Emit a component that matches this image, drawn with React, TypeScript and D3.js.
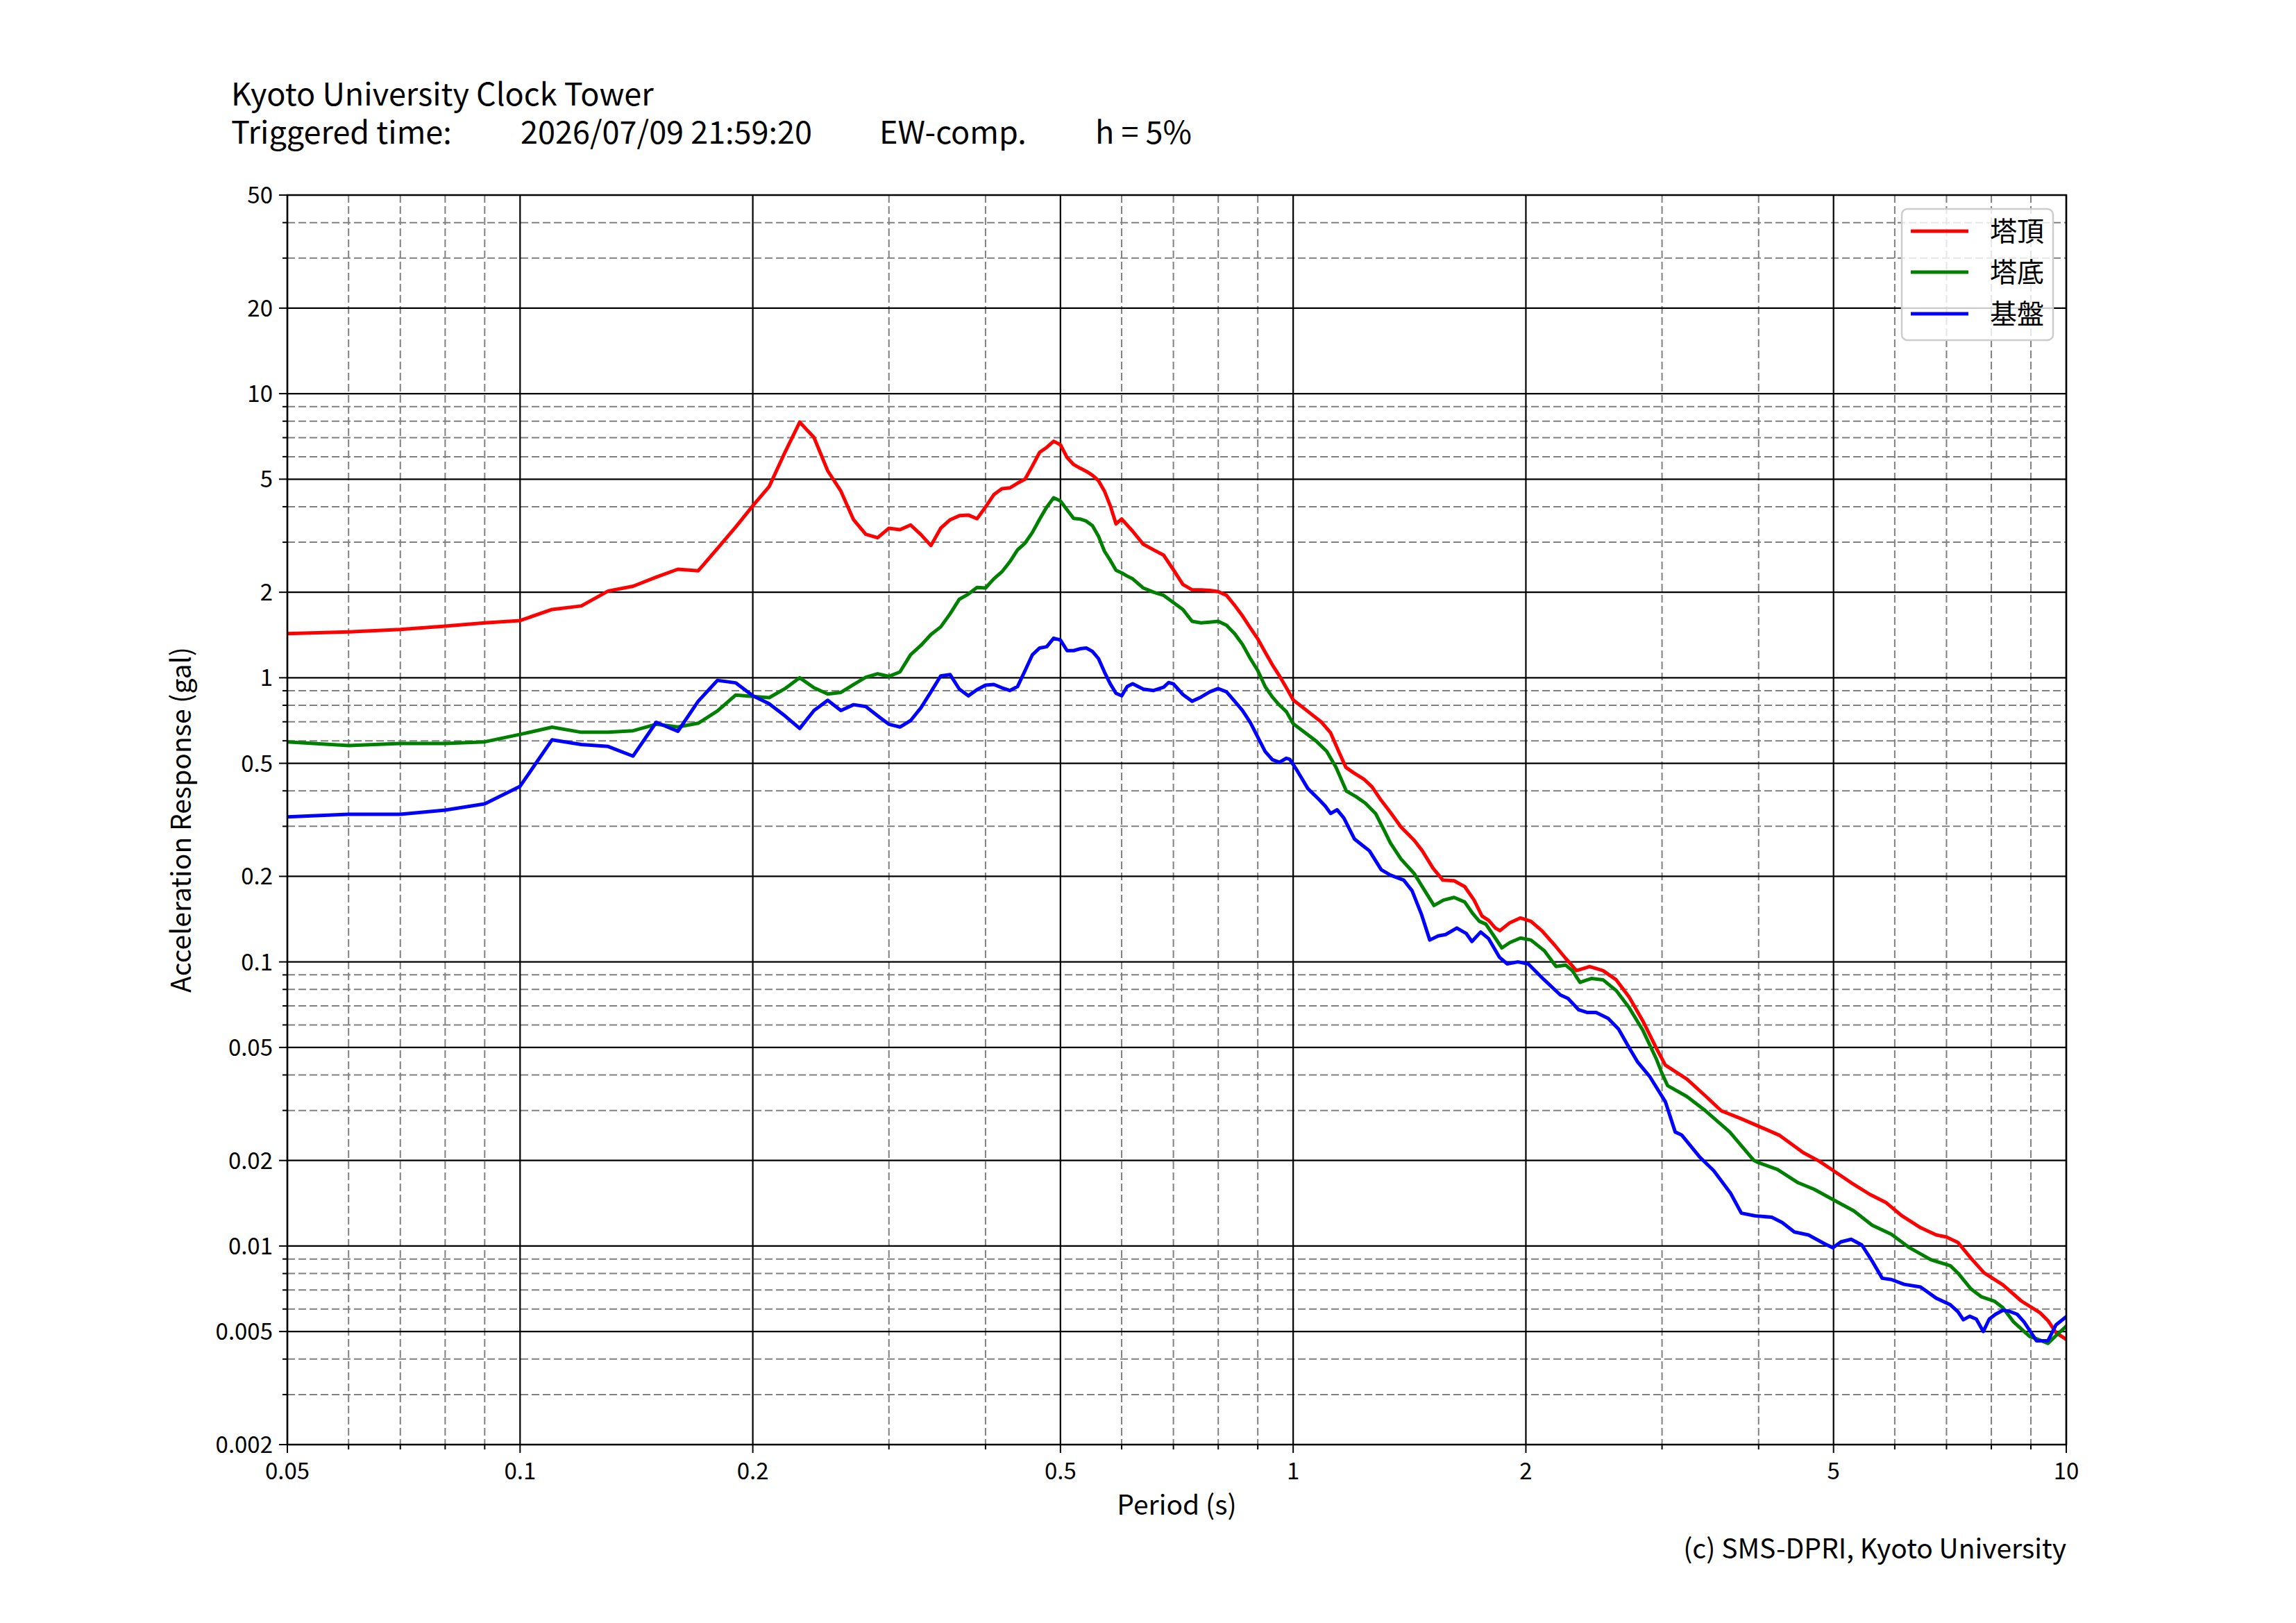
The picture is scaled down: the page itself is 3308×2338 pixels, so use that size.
import React from 'react';
import * as d3 from 'd3';

// ---------- data ----------
const redPeriods = [0.05,0.06,0.07,0.08,0.09,0.10,0.11,0.12,0.13,0.14,0.15,0.16,0.17,0.18,0.19,0.20,0.21,0.22,0.23,0.24,0.25,0.26,0.27,0.28,0.29,0.30,0.31,0.32,0.33,0.34,0.35,0.36,0.37,0.38,0.39,0.40,0.41,0.42,0.43,0.44,0.45,0.46,0.47,0.48,0.49,0.50,0.51,0.52,0.53,0.54,0.55,0.56,0.57,0.58,0.59,0.60,0.62,0.64,0.66,0.68,0.70,0.72,0.74,0.76,0.78,0.80,0.82,0.84,0.86,0.88,0.90,0.92,0.94,0.96,0.98,1.00,1.045,1.088,1.118,1.145,1.17,1.196,1.234,1.264,1.30,1.336,1.379,1.434,1.469,1.516,1.562,1.615,1.667,1.714,1.755,1.79,1.826,1.851,1.907,1.968,2.03,2.097,2.18,2.252,2.325,2.418,2.516,2.617,2.72,2.834,2.947,3.03,3.23,3.42,3.58,3.78,4.0,4.26,4.57,4.79,5.0,5.27,5.57,5.85,6.13,6.48,6.79,7.0,7.24,7.53,7.83,8.28,8.75,9.25,9.47,9.70,10.0];
const redValues = [1.43,1.45,1.48,1.52,1.56,1.59,1.74,1.79,2.02,2.10,2.26,2.41,2.38,2.85,3.39,4.03,4.71,6.2,7.94,7.01,5.35,4.54,3.60,3.20,3.11,3.36,3.32,3.45,3.19,2.92,3.36,3.60,3.72,3.74,3.63,3.99,4.41,4.63,4.66,4.84,5.0,5.57,6.22,6.47,6.80,6.61,5.96,5.63,5.47,5.33,5.16,4.94,4.54,4.03,3.48,3.62,3.28,2.95,2.82,2.70,2.40,2.13,2.04,2.04,2.03,2.01,1.95,1.80,1.65,1.50,1.37,1.23,1.11,1.015,0.922,0.836,0.761,0.698,0.640,0.551,0.484,0.464,0.44,0.414,0.370,0.336,0.298,0.268,0.246,0.214,0.194,0.193,0.184,0.165,0.145,0.140,0.1316,0.1288,0.1374,0.1428,0.139,0.1288,0.1144,0.1028,0.0932,0.0963,0.0932,0.0865,0.0752,0.0619,0.0499,0.0433,0.0387,0.0336,0.0299,0.0282,0.0264,0.0245,0.0213,0.0199,0.0184,0.0167,0.0152,0.0142,0.01277,0.0116,0.01094,0.01075,0.0103,0.00905,0.00804,0.0073,0.0064,0.00582,0.00546,0.00495,0.00469];

const greenPeriods = [0.05,0.06,0.07,0.08,0.09,0.10,0.11,0.12,0.13,0.14,0.15,0.16,0.17,0.18,0.19,0.20,0.21,0.22,0.23,0.24,0.25,0.26,0.27,0.28,0.29,0.30,0.31,0.32,0.33,0.34,0.35,0.36,0.37,0.38,0.39,0.40,0.41,0.42,0.43,0.44,0.45,0.46,0.47,0.48,0.49,0.50,0.51,0.52,0.53,0.54,0.55,0.56,0.57,0.58,0.59,0.60,0.61,0.62,0.64,0.66,0.68,0.70,0.72,0.74,0.76,0.78,0.80,0.82,0.84,0.86,0.88,0.90,0.92,0.94,0.96,0.98,1.00,1.037,1.07,1.105,1.136,1.172,1.205,1.24,1.279,1.31,1.336,1.379,1.434,1.48,1.521,1.565,1.615,1.667,1.707,1.741,1.775,1.818,1.862,1.907,1.968,2.03,2.112,2.188,2.252,2.296,2.35,2.43,2.516,2.617,2.72,2.834,2.947,3.0,3.05,3.23,3.40,3.67,3.94,4.0,4.23,4.50,4.72,5.0,5.31,5.61,5.94,6.27,6.68,7.08,7.24,7.53,7.77,8.07,8.28,8.55,8.97,9.18,9.47,9.70,10.0];
const greenValues = [0.595,0.577,0.587,0.587,0.595,0.632,0.670,0.643,0.643,0.651,0.686,0.671,0.692,0.764,0.869,0.860,0.851,0.915,1.0,0.922,0.877,0.888,0.947,1.004,1.033,1.011,1.048,1.206,1.30,1.42,1.51,1.68,1.89,1.97,2.08,2.07,2.23,2.36,2.56,2.82,2.98,3.25,3.62,3.99,4.30,4.19,3.90,3.64,3.62,3.56,3.43,3.15,2.79,2.59,2.39,2.34,2.28,2.23,2.07,2.00,1.95,1.84,1.74,1.58,1.56,1.57,1.58,1.53,1.43,1.31,1.17,1.06,0.931,0.855,0.801,0.76,0.689,0.640,0.600,0.551,0.484,0.399,0.382,0.362,0.332,0.292,0.262,0.230,0.2046,0.178,0.158,0.165,0.1686,0.1625,0.148,0.139,0.1359,0.1234,0.112,0.117,0.1213,0.1194,0.1096,0.0963,0.0974,0.0932,0.0847,0.0874,0.0865,0.0793,0.069,0.0574,0.0458,0.0405,0.0367,0.0336,0.0302,0.0252,0.02006,0.01964,0.0186,0.0167,0.01583,0.01453,0.0133,0.01184,0.011,0.00986,0.00895,0.00852,0.00804,0.00706,0.00662,0.0064,0.00607,0.0054,0.0048,0.0047,0.00454,0.00484,0.00522];

const bluePeriods = [0.05,0.06,0.07,0.08,0.09,0.10,0.11,0.12,0.13,0.14,0.15,0.16,0.17,0.18,0.19,0.20,0.21,0.22,0.23,0.24,0.25,0.26,0.27,0.28,0.29,0.30,0.31,0.32,0.33,0.34,0.35,0.36,0.37,0.38,0.39,0.40,0.41,0.42,0.43,0.44,0.45,0.46,0.47,0.48,0.49,0.50,0.51,0.52,0.53,0.54,0.55,0.56,0.57,0.58,0.59,0.60,0.61,0.62,0.64,0.66,0.68,0.69,0.70,0.72,0.74,0.76,0.78,0.80,0.82,0.84,0.86,0.88,0.90,0.92,0.94,0.96,0.98,0.99,1.013,1.045,1.079,1.1,1.118,1.14,1.163,1.2,1.225,1.255,1.30,1.336,1.39,1.425,1.466,1.502,1.54,1.575,1.628,1.674,1.703,1.748,1.79,1.848,1.892,1.953,2.014,2.112,2.216,2.267,2.341,2.399,2.465,2.555,2.636,2.72,2.79,2.89,3.03,3.12,3.18,3.36,3.50,3.68,3.80,3.96,4.16,4.29,4.45,4.64,4.87,4.99,5.11,5.27,5.44,5.61,5.78,5.94,6.17,6.48,6.79,7.08,7.24,7.36,7.50,7.65,7.81,7.95,8.10,8.28,8.43,8.64,8.82,9.15,9.47,9.70,10.0];
const blueValues = [0.324,0.331,0.331,0.342,0.36,0.415,0.605,0.582,0.573,0.530,0.697,0.648,0.827,0.979,0.960,0.864,0.810,0.735,0.663,0.767,0.833,0.767,0.804,0.792,0.735,0.686,0.671,0.707,0.784,0.892,1.015,1.026,0.912,0.864,0.908,0.942,0.947,0.922,0.902,0.931,1.06,1.206,1.273,1.286,1.378,1.358,1.246,1.246,1.265,1.273,1.238,1.168,1.048,0.952,0.882,0.864,0.931,0.952,0.912,0.902,0.927,0.962,0.952,0.873,0.827,0.855,0.892,0.916,0.892,0.827,0.767,0.697,0.618,0.55,0.515,0.504,0.521,0.516,0.469,0.407,0.374,0.354,0.333,0.343,0.321,0.271,0.259,0.246,0.211,0.202,0.194,0.178,0.1466,0.1194,0.1234,0.1248,0.1316,0.126,0.118,0.1274,0.1207,0.1039,0.0984,0.1,0.0984,0.0865,0.0765,0.0744,0.0678,0.0664,0.0664,0.0633,0.058,0.0499,0.0444,0.0396,0.0322,0.0252,0.0246,0.0205,0.0184,0.01533,0.01305,0.01277,0.01263,0.0121,0.0112,0.01094,0.01018,0.00986,0.01034,0.01056,0.01008,0.00885,0.0077,0.00762,0.00733,0.00717,0.00655,0.00621,0.00588,0.0055,0.00566,0.00553,0.005,0.00553,0.00575,0.00594,0.0059,0.00575,0.0054,0.00464,0.00464,0.00528,0.00564];

const seriesNames = ['塔頂', '塔底', '基盤'];
const seriesColors = ['#ff0000', '#008000', '#0000ff'];

const xMajorTicks = [0.05, 0.1, 0.2, 0.5, 1, 2, 5, 10];
const xTickLabels = ['0.05', '0.1', '0.2', '0.5', '1', '2', '5', '10'];
const xMinorTicks = [0.06, 0.07, 0.08, 0.09, 0.3, 0.4, 0.6, 0.7, 0.8, 0.9, 3, 4, 6, 7, 8, 9];
const yMajorTicks = [0.002, 0.005, 0.01, 0.02, 0.05, 0.1, 0.2, 0.5, 1, 2, 5, 10, 20, 50];
const yTickLabels = ['0.002', '0.005', '0.01', '0.02', '0.05', '0.1', '0.2', '0.5', '1', '2', '5', '10', '20', '50'];
const yMinorTicks = [0.003, 0.004, 0.006, 0.007, 0.008, 0.009, 0.03, 0.04, 0.06, 0.07, 0.08, 0.09, 0.3, 0.4, 0.6, 0.7, 0.8, 0.9, 3, 4, 6, 7, 8, 9, 30, 40];

const FONT = '"Noto Sans CJK JP", "Noto Sans", sans-serif';

export default function App() {
  const W = 3308, H = 2338;
  const L = 414, R = 2977, T = 281, B = 2081;
  const x = d3.scaleLog().domain([0.05, 10]).range([L, R]);
  const y = d3.scaleLog().domain([0.002, 50]).range([B, T]);
  const line = d3.line<[number, number]>().x(d => x(d[0])).y(d => y(d[1]));

  const series = [
    { p: redPeriods, v: redValues },
    { p: greenPeriods, v: greenValues },
    { p: bluePeriods, v: blueValues },
  ].map((s, i) => ({
    name: seriesNames[i],
    color: seriesColors[i],
    d: line(s.p.map((pp, j) => [pp, s.v[j]] as [number, number])) || '',
  }));

  const legX = 2740, legY = 301, legW = 218, legH = 189;
  const legRows = [333, 392, 452];

  return (
    <svg width={W} height={H} style={{ position: 'absolute', left: 0, top: 0 }} fontFamily={FONT}>
      <rect x={0} y={0} width={W} height={H} fill="#ffffff" />
      {/* titles */}
      <text fontSize={45} fill="#000">
        <tspan x={333} y={152}>Kyoto University Clock Tower</tspan>
        <tspan x={333} y={207}>Triggered time:</tspan>
        <tspan x={750} y={207}>2026/07/09 21:59:20</tspan>
        <tspan x={1267} y={207}>EW-comp.</tspan>
        <tspan x={1578} y={207}>h = 5%</tspan>
      </text>

      <defs>
        <clipPath id="plotclip">
          <rect x={L} y={T} width={R - L} height={B - T} />
        </clipPath>
      </defs>

      {/* minor grid */}
      <g stroke="#808080" strokeWidth={2} strokeDasharray="11,5" fill="none">
        {xMinorTicks.map(t => (
          <line key={'xm' + t} x1={x(t)} x2={x(t)} y1={T} y2={B} />
        ))}
        {yMinorTicks.map(t => (
          <line key={'ym' + t} x1={L} x2={R} y1={y(t)} y2={y(t)} />
        ))}
      </g>
      {/* major grid */}
      <g stroke="#000000" strokeWidth={2.2} fill="none">
        {xMajorTicks.map(t => (
          <line key={'xM' + t} x1={x(t)} x2={x(t)} y1={T} y2={B} />
        ))}
        {yMajorTicks.map(t => (
          <line key={'yM' + t} x1={L} x2={R} y1={y(t)} y2={y(t)} />
        ))}
      </g>

      {/* curves */}
      <g clipPath="url(#plotclip)" fill="none" strokeWidth={5} strokeLinejoin="round" strokeLinecap="square">
        {series.map(s => (
          <path key={s.name} d={s.d} stroke={s.color} />
        ))}
      </g>

      {/* spines */}
      <rect x={L} y={T} width={R - L} height={B - T} fill="none" stroke="#000" strokeWidth={2.5} />

      {/* ticks */}
      <g stroke="#000" strokeWidth={2}>
        {xMajorTicks.map(t => (
          <line key={'xt' + t} x1={x(t)} x2={x(t)} y1={B} y2={B + 12} />
        ))}
        {xMinorTicks.map(t => (
          <line key={'xmt' + t} x1={x(t)} x2={x(t)} y1={B} y2={B + 7} />
        ))}
        {yMajorTicks.map(t => (
          <line key={'yt' + t} x1={L - 12} x2={L} y1={y(t)} y2={y(t)} />
        ))}
        {yMinorTicks.map(t => (
          <line key={'ymt' + t} x1={L - 7} x2={L} y1={y(t)} y2={y(t)} />
        ))}
      </g>

      {/* tick labels */}
      <g fontSize={33} fill="#000">
        {xMajorTicks.map((t, i) => (
          <text key={'xl' + t} x={x(t)} y={2131} textAnchor="middle">{xTickLabels[i]}</text>
        ))}
        {yMajorTicks.map((t, i) => (
          <text key={'yl' + t} x={393} y={y(t) + 12} textAnchor="end">{yTickLabels[i]}</text>
        ))}
      </g>

      {/* axis labels */}
      <text x={(L + R) / 2} y={2182} fontSize={39} textAnchor="middle" fill="#000">Period (s)</text>
      <text transform={`translate(275, ${(T + B) / 2}) rotate(-90)`} fontSize={39} textAnchor="middle" fill="#000">
        Acceleration Response (gal)
      </text>

      {/* legend */}
      <rect x={legX} y={legY} width={legW} height={legH} rx={8} ry={8} fill="#ffffff" fillOpacity={0.8} stroke="#cccccc" strokeWidth={2.5} />
      {series.map((s, i) => (
        <g key={'leg' + s.name}>
          <line x1={2753} x2={2836} y1={legRows[i]} y2={legRows[i]} stroke={s.color} strokeWidth={5} />
          <text x={2867} y={legRows[i] + 14} fontSize={39} fill="#000">{s.name}</text>
        </g>
      ))}

      {/* copyright */}
      <text x={R} y={2245} fontSize={39} textAnchor="end" fill="#000">(c) SMS-DPRI, Kyoto University</text>
    </svg>
  );
}
